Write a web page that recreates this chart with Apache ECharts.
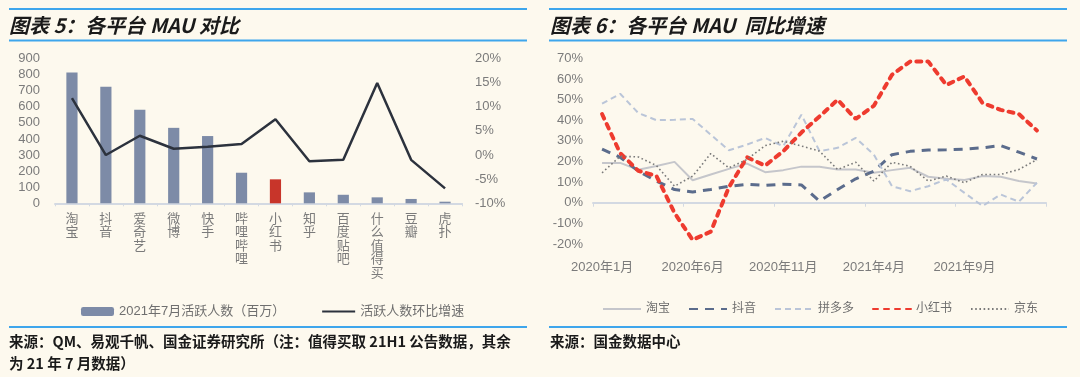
<!DOCTYPE html>
<html>
<head>
<meta charset="utf-8">
<script src="https://cdn.jsdelivr.net/npm/echarts@6/dist/echarts.min.js"></script>
<style>
  html, body { margin: 0; padding: 0; background: #fdf9ee; }
  #chart { width: 1080px; height: 377px; }
</style>
</head>
<body>
<div id="chart"></div>
<script>
// 图表5 各平台MAU对比
const platforms = ['淘宝', '抖音', '爱奇艺', '微博', '快手', '哔哩哔哩', '小红书', '知乎', '百度贴吧', '什么值得买', '豆瓣', '虎扑']
const mauJul2021 = [813, 724, 581, 469, 418, 190, 149, 68, 53, 37, 27, 10]
const momGrowth = [11.8, 0, 4, 1.3, 1.7, 2.3, 7.4, -1.3, -1.0, 14.9, -1.0, -6.9]
const mauTicksLeft = [0, 900, 100]
const momTicksRight = [-10, 20, 5]

// 图表6 各平台MAU同比增速
const months = ['2020年1月', '2020年2月', '2020年3月', '2020年4月', '2020年5月', '2020年6月', '2020年7月', '2020年8月', '2020年9月', '2020年10月', '2020年11月', '2020年12月',
	'2021年1月', '2021年2月', '2021年3月', '2021年4月', '2021年5月', '2021年6月', '2021年7月', '2021年8月', '2021年9月', '2021年10月', '2021年11月', '2021年12月', '2022年1月']
const taobao = [19.3, 19.3, 16, 17.8, 19.8, 10.9, 13.7, 16.4, 19, 14.8, 15.8, 17.5, 17.4, 16.1, 16.1, 14.5, 15.8, 16.9, 12.6, 11.6, 11, 12.9, 12.6, 10.5, 9.3]
const douyin = [26, 22, 15.3, 10.5, 6.4, 5.2, 6.4, 8, 8.9, 8.4, 9, 8.6, 0.8, 6.4, 11.6, 15.3, 23.3, 24.9, 25.5, 25.7, 26, 26.6, 27.7, 24.5, 21.2]
const pinduoduo = [48, 52.8, 43.5, 40, 40.2, 40.6, 33, 25.4, 28.2, 31.4, 27.4, 42.7, 25, 26.6, 31.4, 23.3, 8, 5.6, 8, 11.3, 4.8, -1.6, 4, 0.5, 9.7]
const xiaohongshu = [43, 24, 15.5, 13, -5, -18, -14, 7.5, 22, 18, 25, 34, 41.8, 49.9, 40.6, 47, 62, 68.4, 68.4, 57.1, 61.2, 48.3, 45, 43, 35]
const jingdong = [14.5, 22.5, 22.2, 18, 8, 12.9, 23.8, 16.9, 21, 27.7, 29.8, 27.5, 25, 16.1, 19.6, 10.5, 19.6, 17.7, 10.5, 12.9, 9.7, 13.7, 13.7, 16.1, 20.9]
const yoyTicks = [-20, 70, 10]

const FONT = '"Liberation Sans", "Noto Sans CJK SC", sans-serif'
const CJK = '"Noto Sans CJK SC", sans-serif'
const BLUE = '#3ea6ec'
const labelGray = '#7b7b7b'

const chart = echarts.init(document.getElementById('chart'))

function hline(x1, x2, y) {
	return { type: 'line', shape: { x1: x1, y1: y, x2: x2, y2: y }, style: { stroke: BLUE, lineWidth: 2 }, silent: true }
}
function txt(x, y, text, size, italic) {
	return {
		type: 'text', x: x, y: y,
		style: { text: text, fill: '#1a1a1a', font: (italic ? 'italic ' : '') + 'bold ' + size + 'px ' + CJK, verticalAlign: 'middle' },
		silent: true
	}
}

chart.setOption({
	animation: false,
	backgroundColor: '#fdf9ee',
	textStyle: { fontFamily: FONT },
	graphic: [
		hline(9, 527, 9), hline(9, 527, 40.5), hline(9, 527, 327),
		hline(549, 1067, 9), hline(549, 1067, 40.5), hline(549, 1067, 327),
		txt(9, 25, '图表 5：各平台 MAU 对比', 20, true),
		txt(550, 25, '图表 6：各平台 MAU  同比增速', 20, true),
		txt(9, 341, '来源：QM、易观千帆、国金证券研究所（注：值得买取 21H1 公告数据，其余', 14.5, false),
		txt(9, 363, '为 21 年 7 月数据）', 14.5, false),
		txt(550, 341, '来源：国金数据中心', 14.5, false)
	],
	legend: [
		{
			left: 76,
			top: 300,
			itemWidth: 33,
			itemHeight: 9,
			itemGap: 36,
			textStyle: { color: '#6f6f6f', fontSize: 13, fontFamily: FONT },
			data: [
				{ name: '2021年7月活跃人数（百万）' },
				{ name: '活跃人数环比增速', itemStyle: { opacity: 0 } }
			]
		},
		{
			left: 597,
			top: 298,
			itemWidth: 38,
			itemHeight: 12,
			itemGap: 18,
			itemStyle: { opacity: 0 },
			textStyle: { color: '#6f6f6f', fontSize: 12, fontFamily: FONT },
			data: ['淘宝', '抖音', '拼多多', '小红书', '京东']
		}
	],
	grid: [
		{ left: 55, right: 618, top: 58.5, bottom: 173.7 },
		{ left: 593, right: 34, top: 58.3, bottom: 133 }
	],
	xAxis: [
		{
			type: 'category',
			gridIndex: 0,
			data: platforms,
			axisLine: { lineStyle: { color: '#d3d9e2', width: 2 } },
			axisTick: { show: true, length: 3, lineStyle: { color: '#d3d9e2' } },
			axisLabel: {
				color: labelGray,
				fontSize: 13,
				lineHeight: 13.6,
				margin: 9,
				interval: 0,
				formatter: v => v.split('').join('\n')
			}
		},
		{
			type: 'category',
			gridIndex: 1,
			data: months,
			axisLine: { lineStyle: { color: '#d3d9e2', width: 2 } },
			axisTick: { show: true, interval: 4, length: 4, lineStyle: { color: '#d3d9e2' } },
			axisLabel: { color: labelGray, fontSize: 13, margin: 17, interval: 4 }
		}
	],
	yAxis: [
		{
			type: 'value',
			gridIndex: 0,
			min: mauTicksLeft[0], max: mauTicksLeft[1], interval: mauTicksLeft[2],
			splitLine: { show: false },
			axisLine: { show: false },
			axisLabel: { color: labelGray, fontSize: 13, margin: 15 }
		},
		{
			type: 'value',
			gridIndex: 0,
			position: 'right',
			min: momTicksRight[0], max: momTicksRight[1], interval: momTicksRight[2],
			splitLine: { show: false },
			axisLine: { show: false },
			axisLabel: { color: labelGray, fontSize: 13, margin: 13, formatter: '{value}%' }
		},
		{
			type: 'value',
			gridIndex: 1,
			min: yoyTicks[0], max: yoyTicks[1], interval: yoyTicks[2],
			splitLine: { show: false },
			axisLine: { show: false },
			axisLabel: { color: labelGray, fontSize: 13, margin: 10, formatter: '{value}%' }
		}
	],
	series: [
		{
			name: '2021年7月活跃人数（百万）',
			type: 'bar',
			xAxisIndex: 0,
			yAxisIndex: 0,
			barWidth: '33%',
			itemStyle: { color: '#7d8ba7' },
			data: mauJul2021.map((v, i) => platforms[i] === '小红书' ? { value: v, itemStyle: { color: '#c8352a' } } : v)
		},
		{
			name: '活跃人数环比增速',
			type: 'line',
			xAxisIndex: 0,
			yAxisIndex: 1,
			symbol: 'none',
			itemStyle: { color: '#2c323d' },
			lineStyle: { color: '#2c323d', width: 2.5 },
			data: momGrowth
		},
		{
			name: '淘宝',
			type: 'line',
			xAxisIndex: 1,
			yAxisIndex: 2,
			symbol: 'none',
			itemStyle: { color: '#c5c6cb' },
			lineStyle: { color: '#c5c6cb', width: 2 },
			data: taobao
		},
		{
			name: '抖音',
			type: 'line',
			xAxisIndex: 1,
			yAxisIndex: 2,
			symbol: 'none',
			itemStyle: { color: '#5b6c8c' },
			lineStyle: { color: '#5b6c8c', width: 3, type: [9, 7] },
			data: douyin
		},
		{
			name: '拼多多',
			type: 'line',
			xAxisIndex: 1,
			yAxisIndex: 2,
			symbol: 'none',
			itemStyle: { color: '#bac5d8' },
			lineStyle: { color: '#bac5d8', width: 2, type: [6, 4] },
			data: pinduoduo
		},
		{
			name: '小红书',
			type: 'line',
			xAxisIndex: 1,
			yAxisIndex: 2,
			symbol: 'none',
			itemStyle: { color: '#ee3b2f' },
			lineStyle: { color: '#ee3b2f', width: 4, type: [5, 6], cap: 'round' },
			data: xiaohongshu
		},
		{
			name: '京东',
			type: 'line',
			xAxisIndex: 1,
			yAxisIndex: 2,
			symbol: 'none',
			itemStyle: { color: '#7a7a7a' },
			lineStyle: { color: '#7a7a7a', width: 1.6, type: [1.6, 2.6] },
			data: jingdong
		}
	]
})
</script>
</body>
</html>
